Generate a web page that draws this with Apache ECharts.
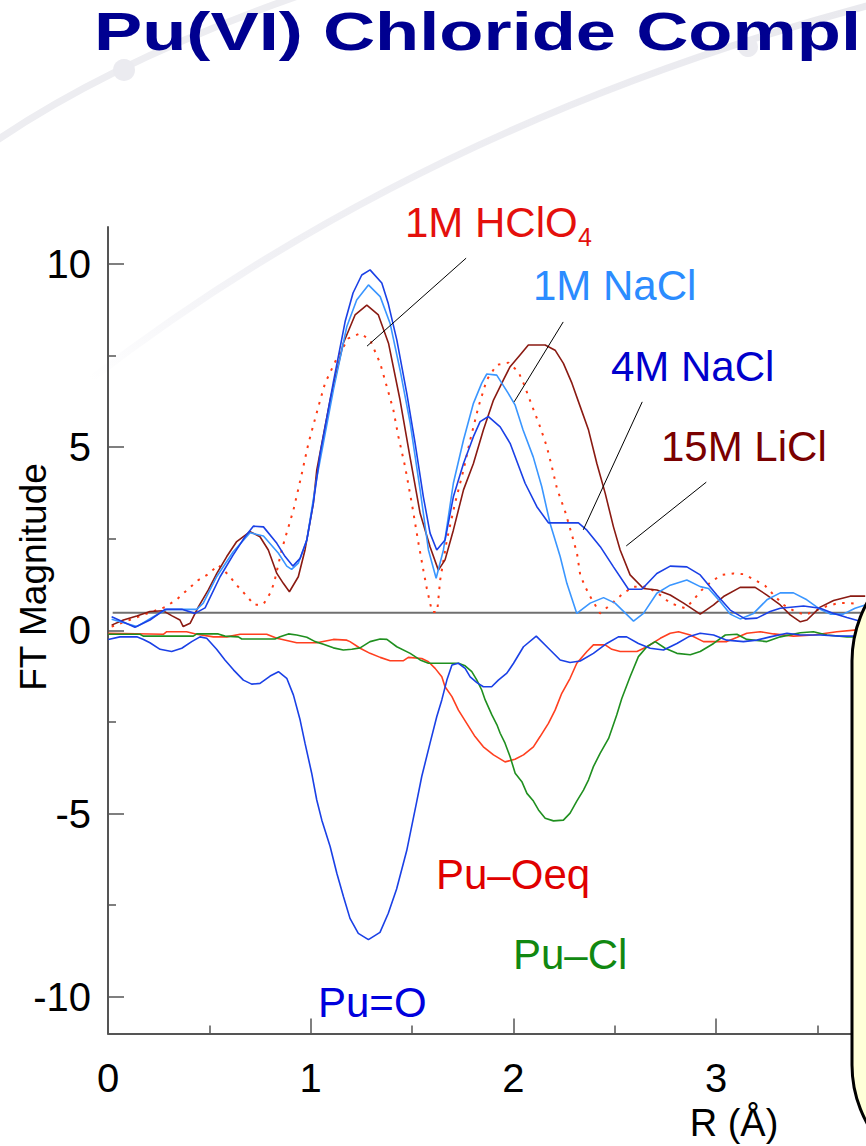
<!DOCTYPE html>
<html><head><meta charset="utf-8">
<script src="https://cdn.jsdelivr.net/npm/echarts@6/dist/echarts.min.js"></script>
<style>html,body{margin:0;padding:0;background:#fff;}#c{width:866px;height:1146px;}</style>
</head><body><div id="c"></div>
<script>
// ---------- axis ticks ----------
const X_MAJOR = [0, 1, 2, 3];
const X_MINOR = [0.5, 1.5, 2.5, 3.5];
const Y_MAJOR = [-10, -5, 0, 5, 10];
const Y_MINOR = [-7.5, -2.5, 2.5, 7.5];
const X_MAX = 3.74, Y_MIN = -11, Y_MAX = 11;

// ---------- FT magnitude curves ----------
const R_4MNACL = [0.018,0.133,0.207,0.281,0.364,0.429,0.479,0.553,0.617,0.676,0.717,0.767,0.833,0.874,0.912,0.948,0.981,1.013,1.046,1.111,1.170,1.209,1.252,1.293,1.351,1.382,1.425,1.474,1.515,1.556,1.589,1.622,1.663,1.704,1.754,1.803,1.836,1.877,1.935,1.984,2.058,2.116,2.173,2.321,2.363,2.429,2.494,2.568,2.634,2.708,2.774,2.856,2.922,3.004,3.070,3.144,3.202,3.267,3.317,3.432,3.514,3.580,3.646,3.720];
const M_4MNACL = [0.37,0.08,0.28,0.57,0.57,0.46,0.61,1.46,2.05,2.55,2.84,2.82,2.37,2.01,1.75,1.96,2.46,3.46,4.80,6.74,8.42,9.20,9.69,9.83,9.47,8.93,7.92,6.47,5.11,3.64,2.65,2.19,2.46,3.64,4.55,5.28,5.69,5.83,5.55,5.10,4.01,3.37,2.93,2.93,2.73,2.28,1.73,1.12,1.12,1.55,1.75,1.73,1.51,0.96,0.55,0.31,0.33,0.51,0.60,0.66,0.60,0.46,0.35,0.23];

const R_1MNACL = [0.018,0.142,0.224,0.290,0.438,0.470,0.536,0.618,0.701,0.767,0.841,0.882,0.906,0.939,0.981,1.030,1.112,1.178,1.227,1.285,1.343,1.392,1.441,1.491,1.540,1.581,1.619,1.655,1.704,1.754,1.803,1.844,1.869,1.918,1.975,2.009,2.048,2.098,2.140,2.181,2.231,2.264,2.313,2.379,2.445,2.502,2.593,2.642,2.708,2.774,2.856,2.922,2.963,3.021,3.070,3.119,3.185,3.251,3.317,3.382,3.448,3.514,3.564,3.628,3.686,3.736];
const M_1MNACL = [0.30,0.10,0.37,0.57,0.57,0.74,1.46,2.14,2.66,2.57,2.10,1.75,1.66,1.83,2.46,4.15,6.55,8.28,9.01,9.42,9.10,8.37,7.10,5.65,3.83,2.19,1.42,2.19,4.01,5.19,6.19,6.74,6.99,6.96,6.46,6.14,5.46,4.73,3.92,2.92,2.01,1.28,0.46,0.74,0.89,0.74,0.25,0.46,1.01,1.23,1.37,1.19,1.14,0.78,0.44,0.31,0.46,0.83,1.02,1.02,0.83,0.57,0.44,0.44,0.60,0.69];

const R_15MLICL = [0.018,0.076,0.142,0.207,0.273,0.314,0.355,0.371,0.405,0.446,0.495,0.537,0.586,0.635,0.701,0.750,0.791,0.833,0.865,0.895,0.939,0.972,1.013,1.030,1.096,1.161,1.219,1.277,1.334,1.384,1.441,1.490,1.540,1.589,1.630,1.663,1.704,1.754,1.803,1.852,1.902,1.951,1.984,2.033,2.074,2.157,2.206,2.247,2.289,2.330,2.371,2.412,2.453,2.494,2.527,2.576,2.642,2.708,2.774,2.840,2.922,2.988,3.037,3.119,3.193,3.251,3.317,3.366,3.416,3.449,3.514,3.580,3.662,3.736];
const M_15MLICL = [0.14,0.28,0.39,0.51,0.53,0.40,0.28,0.10,0.19,0.64,1.10,1.55,2.01,2.42,2.69,2.55,2.19,1.55,1.28,1.05,1.46,2.19,3.46,4.37,6.28,7.83,8.60,8.87,8.60,7.83,6.28,4.73,3.19,2.28,1.64,1.92,2.73,3.83,4.55,5.46,6.28,6.83,7.19,7.51,7.78,7.78,7.64,7.28,6.74,6.10,5.46,4.55,3.74,2.82,2.19,1.51,1.14,1.10,0.96,0.74,0.44,0.69,0.92,1.17,1.17,0.96,0.69,0.42,0.23,0.28,0.63,0.81,0.93,0.93];

const R_HCLO4 = [0.018,0.174,0.281,0.339,0.391,0.446,0.495,0.544,0.594,0.635,0.680,0.722,0.767,0.800,0.819,0.857,0.915,0.953,0.989,1.038,1.071,1.125,1.186,1.244,1.293,1.343,1.376,1.408,1.433,1.466,1.499,1.532,1.556,1.573,1.599,1.624,1.639,1.672,1.712,1.754,1.787,1.828,1.869,1.918,1.976,2.025,2.050,2.091,2.132,2.165,2.190,2.215,2.256,2.289,2.314,2.330,2.354,2.379,2.428,2.478,2.543,2.593,2.659,2.725,2.774,2.848,2.881,2.930,2.980,3.029,3.086,3.136,3.193,3.243,3.292,3.333,3.391,3.440,3.498,3.547,3.604,3.654,3.703];
const M_HCLO4 = [0.10,0.42,0.63,0.84,1.10,1.37,1.53,1.78,1.51,1.23,0.96,0.69,0.71,1.01,1.28,2.19,3.28,4.19,5.10,6.10,6.74,7.37,7.96,8.10,7.92,7.28,6.64,6.01,5.28,4.46,3.46,2.37,1.64,1.14,0.50,0.50,1.37,2.46,3.46,4.37,5.19,6.10,6.83,7.24,7.30,7.05,6.74,6.14,5.55,5.01,4.46,3.87,3.23,2.60,2.10,1.51,1.19,0.92,0.46,0.69,1.01,1.19,1.19,0.96,0.74,0.60,0.78,1.10,1.34,1.51,1.55,1.53,1.37,1.21,0.92,0.69,0.51,0.42,0.55,0.66,0.74,0.74,0.72];

// ---------- fitted shells (plotted negative) ----------
const R_PUO = [0.001,0.059,0.142,0.175,0.207,0.257,0.314,0.364,0.413,0.454,0.487,0.536,0.577,0.619,0.668,0.709,0.750,0.800,0.841,0.882,0.915,0.948,0.972,1.005,1.030,1.055,1.096,1.129,1.162,1.194,1.235,1.285,1.342,1.383,1.424,1.474,1.523,1.548,1.589,1.622,1.647,1.672,1.697,1.729,1.762,1.787,1.820,1.852,1.893,1.926,1.968,2.001,2.050,2.113,2.173,2.231,2.280,2.330,2.395,2.461,2.518,2.559,2.617,2.675,2.741,2.807,2.864,2.922,2.988,3.053,3.135,3.201,3.267,3.350,3.416,3.514,3.613,3.695];
const M_PUO = [-0.25,-0.18,-0.18,-0.25,-0.34,-0.52,-0.58,-0.49,-0.31,-0.18,-0.22,-0.52,-0.81,-1.08,-1.36,-1.47,-1.45,-1.25,-1.13,-1.31,-1.77,-2.45,-3.08,-3.90,-4.63,-5.18,-5.90,-6.63,-7.27,-7.86,-8.27,-8.44,-8.24,-7.72,-7.06,-6.01,-4.68,-3.99,-3.08,-2.36,-1.90,-1.36,-0.95,-0.90,-1.04,-1.27,-1.43,-1.54,-1.54,-1.36,-1.17,-0.90,-0.45,-0.16,-0.49,-0.81,-0.88,-0.84,-0.63,-0.36,-0.18,-0.18,-0.36,-0.49,-0.54,-0.36,-0.18,-0.08,-0.13,-0.27,-0.31,-0.27,-0.18,-0.08,-0.13,-0.13,-0.16,-0.16];

const R_PUOEQ = [0.001,0.273,0.290,0.388,0.438,0.520,0.586,0.652,0.783,0.833,0.931,1.030,1.112,1.178,1.194,1.244,1.293,1.343,1.392,1.458,1.482,1.548,1.581,1.614,1.647,1.663,1.697,1.729,1.770,1.811,1.852,1.902,1.959,2.008,2.050,2.099,2.132,2.173,2.206,2.239,2.280,2.313,2.363,2.395,2.453,2.486,2.527,2.610,2.659,2.725,2.774,2.815,2.873,2.938,3.053,3.102,3.152,3.218,3.284,3.382,3.481,3.596,3.695];
const M_PUOEQ = [-0.08,-0.11,-0.04,-0.04,-0.11,-0.18,-0.18,-0.11,-0.11,-0.22,-0.34,-0.34,-0.25,-0.27,-0.31,-0.49,-0.63,-0.74,-0.83,-0.83,-0.74,-0.77,-0.86,-1.04,-1.27,-1.54,-1.81,-2.18,-2.54,-2.90,-3.18,-3.40,-3.59,-3.52,-3.40,-3.18,-2.90,-2.54,-2.18,-1.72,-1.31,-0.90,-0.58,-0.40,-0.40,-0.52,-0.58,-0.58,-0.45,-0.22,-0.08,-0.04,-0.13,-0.31,-0.31,-0.20,-0.08,-0.04,-0.10,-0.16,-0.13,-0.04,0.01];

const R_PUCL = [0.001,0.158,0.174,0.421,0.438,0.544,0.577,0.643,0.660,0.824,0.849,0.890,0.931,0.981,1.022,1.063,1.112,1.161,1.203,1.244,1.293,1.343,1.376,1.425,1.491,1.540,1.581,1.729,1.762,1.795,1.820,1.844,1.861,1.894,1.919,1.935,1.959,1.984,2.009,2.042,2.067,2.099,2.124,2.157,2.198,2.247,2.280,2.313,2.346,2.371,2.395,2.428,2.470,2.510,2.535,2.576,2.617,2.659,2.700,2.749,2.807,2.873,2.922,2.988,3.046,3.103,3.152,3.251,3.317,3.416,3.481,3.547,3.646,3.728];
const M_PUCL = [-0.11,-0.11,-0.16,-0.16,-0.10,-0.10,-0.16,-0.18,-0.24,-0.24,-0.18,-0.10,-0.13,-0.19,-0.31,-0.38,-0.48,-0.54,-0.52,-0.48,-0.31,-0.24,-0.25,-0.45,-0.63,-0.81,-0.90,-0.90,-0.97,-1.13,-1.36,-1.63,-1.90,-2.31,-2.58,-2.81,-3.08,-3.45,-3.90,-4.13,-4.45,-4.66,-4.90,-5.13,-5.20,-5.18,-4.99,-4.66,-4.36,-4.08,-3.72,-3.36,-2.95,-2.31,-1.86,-1.27,-0.72,-0.45,-0.31,-0.49,-0.63,-0.67,-0.58,-0.36,-0.13,-0.11,-0.25,-0.31,-0.18,-0.07,-0.04,-0.13,-0.18,-0.18];

// ---------- reference line & label leaders (data coordinates) ----------
const BASE_R = [0.023, 3.74];
const BASE_M = [0.48, 0.48];
const LEAD_HCLO4 = [[1.767, 10.15], [1.278, 7.75]];
const LEAD_1MNACL = [[2.246, 8.41], [2.004, 6.23]];
const LEAD_4MNACL = [[2.636, 6.23], [2.345, 2.74]];
const LEAD_15MLICL = [[2.952, 4.04], [2.557, 2.30]];

const zip = (r, m) => r.map((x, i) => [x, m[i]]);
const FONT = "'Liberation Sans', Arial, Helvetica, sans-serif";

const chart = echarts.init(document.getElementById('c'), null, {renderer: 'svg', width: 866, height: 1146});

function curve(name, r, m, color, width, type, z) {
  return {
    type: 'line', name, data: zip(r, m), xAxisIndex: 0, yAxisIndex: 0,
    symbol: 'none', showSymbol: false, smooth: false, silent: true, z: z || 2,
    emphasis: {disabled: true},
    lineStyle: {color, width, type: type || 'solid'}
  };
}
function label(text, x, y, color, size) {
  return {type: 'text', x, y, z: 20, silent: true,
    style: {text, fill: color, font: (size || 42) + 'px ' + FONT,
      textAlign: 'left', align: 'left', textVerticalAlign: 'middle', verticalAlign: 'middle'}};
}
const tickLine = {color: '#555', width: 1.5};

const option = {
  animation: false,
  backgroundColor: '#ffffff',
  grid: {left: 108, right: 0, top: 227, bottom: 112.5, containLabel: false},
  tooltip: {show: false},
  xAxis: [
    {type: 'value', min: 0, max: X_MAX, position: 'bottom',
     axisLine: {show: true, onZero: false, lineStyle: {color: '#555', width: 2}},
     axisTick: {show: true, inside: true, length: 15, customValues: X_MAJOR, lineStyle: tickLine},
     axisLabel: {show: true, customValues: X_MAJOR, margin: 24, fontSize: 40, color: '#000', fontFamily: FONT},
     splitLine: {show: false}},
    {type: 'value', min: 0, max: X_MAX, position: 'bottom',
     axisLine: {show: false, onZero: false},
     axisTick: {show: true, inside: true, length: 8, customValues: X_MINOR, lineStyle: tickLine},
     axisLabel: {show: false}, splitLine: {show: false}}
  ],
  yAxis: [
    {type: 'value', min: Y_MIN, max: Y_MAX, position: 'left',
     axisLine: {show: true, onZero: false, lineStyle: {color: '#555', width: 2}},
     axisTick: {show: true, inside: true, length: 16, customValues: Y_MAJOR, lineStyle: tickLine},
     axisLabel: {show: true, customValues: Y_MAJOR, margin: 17, fontSize: 40, color: '#000', fontFamily: FONT, padding: [12, 0, 0, 0]},
     splitLine: {show: false}},
    {type: 'value', min: Y_MIN, max: Y_MAX, position: 'left',
     axisLine: {show: false, onZero: false},
     axisTick: {show: true, inside: true, length: 8, customValues: Y_MINOR, lineStyle: tickLine},
     axisLabel: {show: false}, splitLine: {show: false}}
  ],
  series: [
    curve('baseline', BASE_R, BASE_M, '#707070', 2, 'solid', 1),
    curve('Pu–Oeq', R_PUOEQ, M_PUOEQ, '#ff3f1f', 1.6),
    curve('Pu–Cl', R_PUCL, M_PUCL, '#1f8f1f', 1.6),
    curve('Pu=O', R_PUO, M_PUO, '#1a40e6', 1.6),
    curve('1M HClO4', R_HCLO4, M_HCLO4, '#ff3a14', 2, [2.5, 6.5]),
    curve('15M LiCl', R_15MLICL, M_15MLICL, '#8a1a12', 1.6),
    curve('1M NaCl', R_1MNACL, M_1MNACL, '#3a96ff', 1.6),
    curve('4M NaCl', R_4MNACL, M_4MNACL, '#1a40e6', 1.6),
    curve('lead1', LEAD_HCLO4.map(p => p[0]), LEAD_HCLO4.map(p => p[1]), '#000', 1, 'solid', 5),
    curve('lead2', LEAD_1MNACL.map(p => p[0]), LEAD_1MNACL.map(p => p[1]), '#000', 1, 'solid', 5),
    curve('lead3', LEAD_4MNACL.map(p => p[0]), LEAD_4MNACL.map(p => p[1]), '#000', 1, 'solid', 5),
    curve('lead4', LEAD_15MLICL.map(p => p[0]), LEAD_15MLICL.map(p => p[1]), '#000', 1, 'solid', 5)
  ],
  graphic: [
    // decorative background swooshes
    {type: 'bezierCurve', z: -5, silent: true,
     shape: {x1: -10, y1: 145, cpx1: 120, cpy1: 55, x2: 330, y2: -15},
     style: {stroke: '#ededf1', lineWidth: 7, fill: null}},
    {type: 'bezierCurve', z: -5, silent: true,
     shape: {x1: 90, y1: 380, cpx1: 420, cpy1: 125, x2: 870, y2: 5},
     style: {fill: null, lineWidth: 7,
       stroke: {type: 'linear', x: 0, y: 1, x2: 1, y2: 0, global: false,
         colorStops: [{offset: 0, color: 'rgba(236,236,242,0)'}, {offset: 0.3, color: '#f0f0f4'}, {offset: 1, color: '#e9e9ee'}]}}},
    {type: 'circle', z: -5, silent: true, shape: {cx: 124, cy: 70, r: 11}, style: {fill: '#ebebf0'}},
    {type: 'circle', z: -5, silent: true, shape: {cx: 748, cy: 47, r: 10}, style: {fill: '#ebebf0'}},
    // title (cut by the frame in the original slide)
    {type: 'text', x: 94, y: 31, scaleX: 1.339, z: 20, silent: true,
     style: {text: 'Pu(VI) Chloride Compl', fill: '#000090', font: 'bold 54px ' + FONT,
       textAlign: 'left', align: 'left', textVerticalAlign: 'middle', verticalAlign: 'middle'}},
    // axis titles
    {type: 'text', x: 33, y: 577, rotation: Math.PI / 2, z: 20, silent: true,
     style: {text: 'FT Magnitude', fill: '#000', font: '37px ' + FONT,
       textAlign: 'center', align: 'center', textVerticalAlign: 'middle', verticalAlign: 'middle'}},
    {type: 'text', x: 734, y: 1123, z: 20, silent: true,
     style: {text: 'R (Å)', fill: '#000', font: '38px ' + FONT,
       textAlign: 'center', align: 'center', textVerticalAlign: 'middle', verticalAlign: 'middle'}},
    // series annotations
    label('1M HClO', 405, 222, '#e4100c'),
    label('4', 578, 237, '#e4100c', 25),
    label('1M NaCl', 533, 285, '#2b8cff'),
    label('4M NaCl', 611, 366, '#0000cc'),
    label('15M LiCl', 661, 446, '#7a0000'),
    label('Pu–Oeq', 436, 874, '#e00000'),
    label('Pu–Cl', 513, 954, '#118811'),
    label('Pu=O', 318, 1002, '#0000dd'),
    // yellow callout box (partly outside the frame)
    {type: 'rect', z: 100, silent: true,
     shape: {x: 852, y: 541, width: 300, height: 644, r: 120},
     style: {fill: '#ffffd9', stroke: '#000', lineWidth: 3}}
  ]
};
chart.setOption(option);
</script>
</body></html>
